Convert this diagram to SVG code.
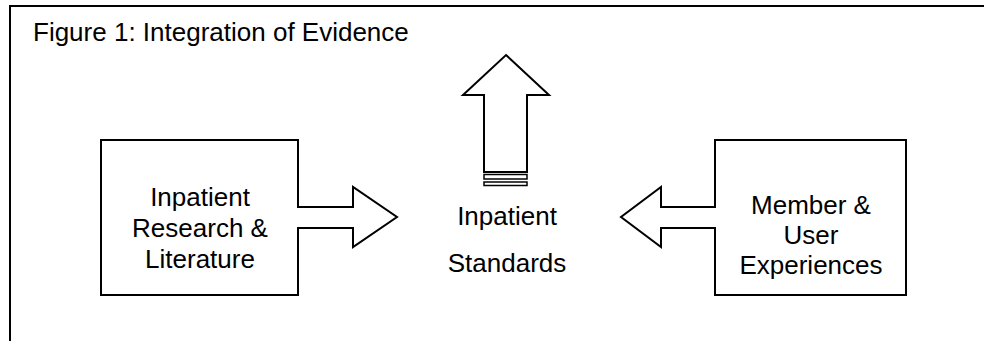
<svg xmlns="http://www.w3.org/2000/svg" width="984" height="341" viewBox="0 0 984 341">
<style>
.ln{fill:none;stroke:#000;stroke-width:2}
.sh{fill:#fff;stroke:#000;stroke-width:2;stroke-linejoin:miter}
.t{font-family:"Liberation Sans",Arial,sans-serif;font-size:26px;fill:#000;text-anchor:middle}
.title{font-family:"Liberation Sans",Arial,sans-serif;font-size:26px;fill:#000}
</style>
<rect width="984" height="341" fill="#fff"/>
<g id="frame">
<path class="ln" d="M10,341 V6 H984"/>
<text class="title" x="33" y="41">Figure 1: Integration of Evidence</text>
</g>
<g id="connectors">
<path class="sh" d="M506,55 L549,95 H527 V172 H484 V95 H463 Z"/>
<rect x="484" y="174.5" width="43" height="4.5" fill="#fff" stroke="#000" stroke-width="1.5"/>
<rect x="484" y="182" width="43" height="3.5" fill="#fff" stroke="#000" stroke-width="1.5"/>
</g>
<g id="research">
<path class="sh" d="M101,140 H298 V207 H353 V187 L397,217 L353,247 V228 H298 V295 H101 Z"/>
<text class="t" x="200" y="206">Inpatient</text>
<text class="t" x="200" y="237">Research &amp;</text>
<text class="t" x="200" y="268">Literature</text>
</g>
<g id="standards">
<text class="t" x="507" y="225">Inpatient</text>
<text class="t" x="507" y="272">Standards</text>
</g>
<g id="member">
<path class="sh" d="M715,140 H906 V295 H715 V228 H661 V247 L621,217 L661,187 V207 H715 Z"/>
<text class="t" x="811" y="214">Member &amp;</text>
<text class="t" x="811" y="244">User</text>
<text class="t" x="811" y="274">Experiences</text>
</g>
</svg>
